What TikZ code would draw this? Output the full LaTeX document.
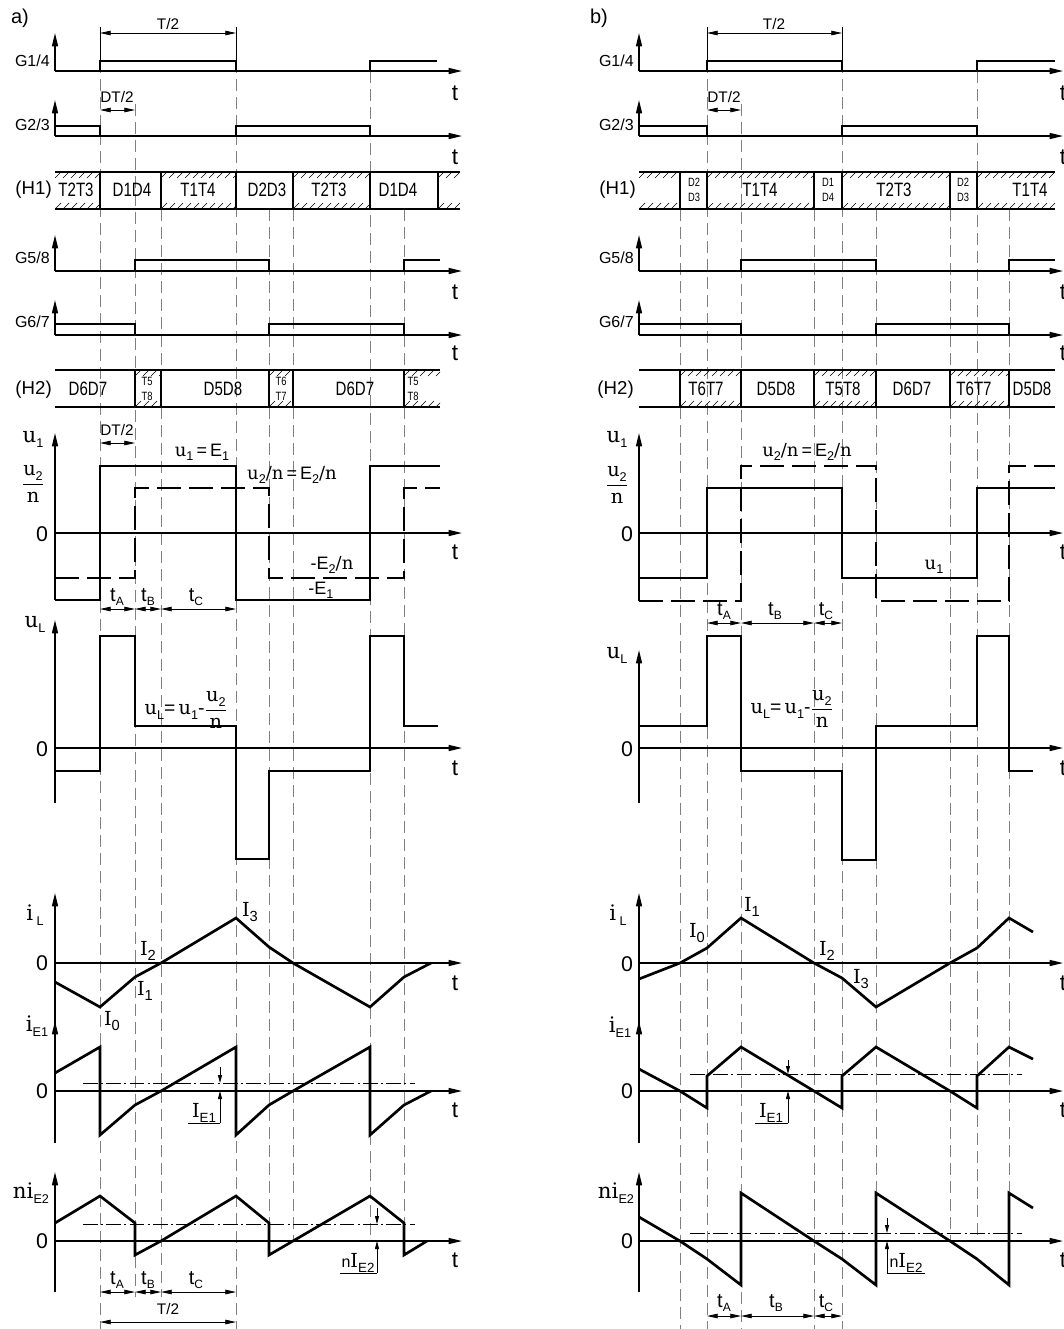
\documentclass[tikz,border=0pt]{standalone}
\usepackage{fontspec}
\setmainfont{Liberation Sans}
\newfontfamily\SerF{DejaVu Serif}
\newfontfamily\NarF[FakeStretch=0.78]{Liberation Sans}
\usetikzlibrary{arrows.meta}
\newcommand\Sub[2][9.5]{\raisebox{-0.45ex}{\rmfamily\fontsize{#1}{#1}\selectfont #2}}
\newcommand\FracUN{\ensuremath{\displaystyle\frac{\hbox{\SerF u\Sub{2}}}{\hbox{\SerF n}}}}
\newcommand\HatchCell[4]{%
 \begin{scope}
 \clip (#1,#3) rectangle (#2,#4);
 \foreach \hx in {-8,0,...,120}{%
  \draw[hatch] ({#1+\hx},{#3+6}) -- ++(6,-6);
  \draw[hatch] ({#1+\hx},{#4}) -- ++(6,-6);
 }
 \end{scope}}
\tikzset{
 guide/.style={draw=black!50, line width=0.7pt, dash pattern=on 9pt off 4.5pt},
 ext/.style={line width=0.6pt},
 axis/.style={line width=1pt, -{Triangle[length=10pt,width=4.5pt]}},
 gwave/.style={line width=1.5pt, line join=miter},
 wave/.style={line width=2pt, line join=miter},
 dwave/.style={wave, dash pattern=on 18pt off 6pt},
 dimline/.style={line width=0.6pt, {Triangle[length=8pt,width=3.4pt]}-{Triangle[length=8pt,width=3.4pt]}},
 sarr/.style={line width=0.6pt, -{Triangle[length=6pt,width=3pt]}},
 leader/.style={line width=0.6pt},
 dashdot/.style={line width=0.6pt, dash pattern=on 11pt off 2.5pt on 1.5pt off 2.5pt},
 hatch/.style={line width=0.45pt},
 boxl/.style={line width=1.2pt},
 bord/.style={line width=2pt},
 glbl/.style={font=\fontsize{12}{14}\selectfont, inner sep=0pt, anchor=east},
 hlbl/.style={font=\fontsize{14}{16}\selectfont, inner sep=0pt, anchor=east},
 tlbl/.style={font=\fontsize{17}{19}\selectfont, inner sep=0pt},
 zlbl/.style={font=\fontsize{16}{18}\selectfont, inner sep=0pt},
 cell/.style={font=\NarF\fontsize{14.5}{16}\selectfont, inner sep=0pt},
 scell/.style={font=\NarF\fontsize{9}{11}\selectfont, inner sep=0pt, align=center},
 dlbl/.style={font=\fontsize{11.5}{13}\selectfont, inner sep=0pt},
 tsub/.style={font=\fontsize{15}{17}\selectfont, inner sep=0pt},
 slbl/.style={font=\fontsize{16}{18}\selectfont, inner sep=0pt},
 ilbl/.style={font=\fontsize{14.5}{16}\selectfont, inner sep=0pt},
 eq/.style={font=\fontsize{13.5}{15}\selectfont, inner sep=0pt},
 eqb/.style={font=\fontsize{14.5}{16}\selectfont, inner sep=0pt},
 hdr/.style={font=\fontsize{15}{17}\selectfont, inner sep=0pt},
}
\begin{document}
\begin{tikzpicture}[x=0.75pt,y=-0.75pt]
\useasboundingbox (0,0) rectangle (1064,1329);

%================ PANEL A ================
\foreach \gx/\ya/\yb in {100/61/1329, 236/61/1329, 135/104/1297, 161/209/1297, 269/209/1256, 293/209/1241, 370/71/1241, 404/209/1256}
  \draw[guide] (\gx,\ya) -- (\gx,\yb);
\draw[ext] (100,27) -- (100,61);
\draw[ext] (236,27) -- (236,61);

\foreach \yb/\yt in {71/33, 136/100, 271/235, 335/300}{
  \draw[axis] (55,\yb) -- (55,\yt);
  \draw[axis] (55,\yb) -- (462,\yb);
}
\draw[axis] (55,600) -- (55,433);  \draw[axis] (55,533) -- (462,533);
\draw[axis] (55,803) -- (55,620);  \draw[axis] (55,748) -- (462,748);
\draw[axis] (55,1025) -- (55,893); \draw[axis] (55,963) -- (462,963);
\draw[axis] (55,1143) -- (55,1021); \draw[axis] (55,1091) -- (462,1091);
\draw[axis] (55,1292) -- (55,1172); \draw[axis] (55,1241) -- (462,1241);

\draw[gwave] (55,71) -- (100,71) -- (100,61) -- (236,61) -- (236,71) -- (370,71) -- (370,61) -- (437,61);
\draw[gwave] (55,126) -- (100,126) -- (100,136) -- (236,136) -- (236,126) -- (370,126) -- (370,136);
\draw[gwave] (55,271) -- (135,271) -- (135,260) -- (269,260) -- (269,271) -- (404,271) -- (404,260) -- (440,260);
\draw[gwave] (55,324) -- (135,324) -- (135,335) -- (269,335) -- (269,324) -- (404,324) -- (404,335);

\HatchCell{55}{100}{172}{209}
\HatchCell{161}{236}{172}{209}
\HatchCell{293}{370}{172}{209}
\HatchCell{438}{460}{172}{209}
\draw[boxl] (55,172) -- (460,172) (55,209) -- (460,209);
\foreach \bx in {100,161,236,293,370,438} \draw[bord] (\bx,172) -- (\bx,209);
\HatchCell{135}{161}{370}{407}
\HatchCell{269}{293}{370}{407}
\HatchCell{404}{440}{370}{407}
\draw[boxl] (55,370) -- (440,370) (55,407) -- (440,407);
\foreach \bx in {135,161,269,293,404} \draw[bord] (\bx,370) -- (\bx,407);

\draw[wave] (55,600) -- (100,600) -- (100,466) -- (236,466) -- (236,600) -- (370,600) -- (370,466) -- (440,466);
\draw[dwave] (55,578) -- (135,578) -- (135,488) -- (269,488) -- (269,578) -- (404,578) -- (404,488) -- (440,488);
\draw[wave] (55,771) -- (100,771) -- (100,636) -- (135,636) -- (135,726) -- (236,726) -- (236,859) -- (269,859) -- (269,771) -- (370,771) -- (370,636) -- (404,636) -- (404,726) -- (438,726);
\draw[wave] (55,982) -- (100,1007) -- (135,977) -- (161,963) -- (236,918) -- (269,947) -- (293,963) -- (370,1007) -- (404,977) -- (431,963);
\draw[wave] (55,1073) -- (100,1047) -- (100,1135) -- (135,1105) -- (161,1091) -- (236,1047) -- (236,1135) -- (269,1105) -- (293,1091) -- (370,1047) -- (370,1135) -- (404,1105) -- (431,1091);
\draw[wave] (55,1223) -- (100,1196) -- (135,1223) -- (135,1255) -- (161,1241) -- (236,1196) -- (269,1223) -- (269,1255) -- (293,1241) -- (370,1196) -- (404,1223) -- (404,1255) -- (427,1241);

\draw[dashdot] (83,1083) -- (415,1083);
\draw[dashdot] (83,1224) -- (415,1224);
\draw[sarr] (220,1067) -- (220,1083);
\draw[sarr] (220,1123) -- (220,1091);
\draw[leader] (188,1123) -- (220,1123);
\draw[sarr] (377,1208) -- (377,1224);
\draw[sarr] (377,1273) -- (377,1241);
\draw[leader] (340,1273) -- (377,1273);

\draw[dimline] (100,33) -- (236,33);
\draw[dimline] (100,110) -- (135,110);
\draw[dimline] (100,443) -- (135,443);
\draw[dimline] (100,609) -- (135,609);
\draw[dimline] (135,609) -- (161,609);
\draw[dimline] (161,609) -- (236,609);
\draw[dimline] (100,1292) -- (135,1292);
\draw[dimline] (135,1292) -- (161,1292);
\draw[dimline] (161,1292) -- (236,1292);
\draw[dimline] (100,1322) -- (236,1322);

\node[hdr] (aTitle) at (20,18) {a)};
\node[dlbl] (aT2top) at (168,24) {T/2};
\node[dlbl] (aDT1) at (117,97) {DT/2};
\node[dlbl] (aDT2) at (117,430) {DT/2};
\node[glbl] (aG14) at (50,61) {G1/4};
\node[glbl] (aG23) at (50,125) {G2/3};
\node[hlbl] (aH1) at (52,190) {(H1)};
\node[glbl] (aG58) at (50,258) {G5/8};
\node[glbl] (aG67) at (50,322) {G6/7};
\node[hlbl] (aH2) at (52,390) {(H2)};
\foreach \yy/\nn in {93/1,157/2,292/3,353/4,552/5,768/6,983/7,1110/8,1260/9}
  \node[tlbl] (at\nn) at (455,\yy) {t};
\node[cell] (aC1) at (76,190) {T2T3};
\node[cell] (aC2) at (132,190) {D1D4};
\node[cell] (aC3) at (198,190) {T1T4};
\node[cell] (aC4) at (267,190) {D2D3};
\node[cell] (aC5) at (329,190) {T2T3};
\node[cell] (aC6) at (398,190) {D1D4};
\node[cell] (aK1) at (88,389) {D6D7};
\node[scell] (aK2) at (147,389) {T5\\T8};
\node[cell] (aK3) at (223,389) {D5D8};
\node[scell] (aK4) at (281,389) {T6\\T7};
\node[cell] (aK5) at (355,389) {D6D7};
\node[scell] (aK6) at (413,389) {T5\\T8};

\node[slbl] (au1) at (33,439) {{\SerF u}\Sub{1}};
\node[eqb] (afr) at (33,484) {\FracUN};
\node[zlbl] (az1) at (42,534) {0};
\node[eq] (aeq1) at (202,452) {{\SerF u}\Sub{1}\,=\,E\Sub{1}};
\node[eq] (aeq2) at (292,475) {{\SerF u}\Sub{2}{\SerF /n}\,=\,E\Sub{2}{\SerF /n}};
\node[eq] (aeq3) at (332,565) {-E\Sub{2}{\SerF /n}};
\node[eq] (aeq4) at (321,590) {-E\Sub{1}};
\node[tsub] (atA1) at (117,597) {t\Sub[9]{A}};
\node[tsub] (atB1) at (148,597) {t\Sub[9]{B}};
\node[tsub] (atC1) at (196,597) {t\Sub[9]{C}};

\node[slbl] (auL) at (35,624) {{\SerF u}\Sub{L}};
\node[zlbl] (az2) at (42,749) {0};
\node[eqb] (aeq5) at (186,710) {{\SerF u}\Sub{L}=\,{\SerF u}\Sub{1}-\FracUN};

\node[slbl] (aiL) at (35,915) {{\SerF i}\,\Sub{L}};
\node[zlbl] (az3) at (42,963) {0};
\node[ilbl] (aI3) at (250,912) {{\SerF I}\Sub[11]{3}};
\node[ilbl] (aI2) at (148,951) {{\SerF I}\Sub[11]{2}};
\node[ilbl] (aI1) at (145,991) {{\SerF I}\Sub[11]{1}};
\node[ilbl] (aI0) at (112,1021) {{\SerF I}\Sub[11]{0}};

\node[slbl] (aiE1) at (37,1026) {{\SerF i}\Sub{E1}};
\node[zlbl] (az4) at (42,1091) {0};
\node[ilbl] (aIE1) at (204,1113) {{\SerF I}\Sub[10]{E1}};

\node[slbl] (aniE2) at (31,1193) {{\SerF ni}\Sub{E2}};
\node[zlbl] (az5) at (42,1241) {0};
\node[ilbl] (anIE2) at (358,1263) {{\fontsize{12}{12}\selectfont n}{\SerF I}\Sub[10]{E2}};
\node[tsub] (atA2) at (117,1280) {t\Sub[9]{A}};
\node[tsub] (atB2) at (148,1280) {t\Sub[9]{B}};
\node[tsub] (atC2) at (196,1280) {t\Sub[9]{C}};
\node[dlbl] (aT2bot) at (168,1309) {T/2};

%================ PANEL B ================
\foreach \gx/\ya/\yb in {707/61/1329, 842/61/1329, 741/104/1329, 680/209/1329, 814/209/1329, 876/209/1241, 950/209/1241, 977/71/1241, 1009/209/1241}
  \draw[guide] (\gx,\ya) -- (\gx,\yb);
\draw[ext] (707,27) -- (707,61);
\draw[ext] (842,27) -- (842,61);

\foreach \yb/\yt in {71/33, 136/100, 271/235, 335/300}{
  \draw[axis] (639,\yb) -- (639,\yt);
  \draw[axis] (639,\yb) -- (1063,\yb);
}
\draw[axis] (639,601) -- (639,433);  \draw[axis] (639,533) -- (1063,533);
\draw[axis] (639,803) -- (639,650);  \draw[axis] (639,748) -- (1063,748);
\draw[axis] (639,1025) -- (639,893); \draw[axis] (639,963) -- (1063,963);
\draw[axis] (639,1143) -- (639,1021); \draw[axis] (639,1091) -- (1063,1091);
\draw[axis] (639,1292) -- (639,1172); \draw[axis] (639,1241) -- (1063,1241);

\draw[gwave] (639,71) -- (707,71) -- (707,61) -- (842,61) -- (842,71) -- (977,71) -- (977,61) -- (1055,61);
\draw[gwave] (639,126) -- (707,126) -- (707,136) -- (842,136) -- (842,126) -- (977,126) -- (977,136);
\draw[gwave] (639,271) -- (741,271) -- (741,260) -- (876,260) -- (876,271) -- (1009,271) -- (1009,260) -- (1055,260);
\draw[gwave] (639,324) -- (741,324) -- (741,335) -- (876,335) -- (876,324) -- (1009,324) -- (1009,335);

\HatchCell{639}{680}{172}{209}
\HatchCell{707}{814}{172}{209}
\HatchCell{842}{950}{172}{209}
\HatchCell{977}{1055}{172}{209}
\draw[boxl] (639,172) -- (1055,172) (639,209) -- (1055,209);
\foreach \bx in {680,707,814,842,950,977} \draw[bord] (\bx,172) -- (\bx,209);
\HatchCell{680}{741}{370}{407}
\HatchCell{814}{876}{370}{407}
\HatchCell{950}{1009}{370}{407}
\draw[boxl] (639,370) -- (1055,370) (639,407) -- (1055,407);
\foreach \bx in {680,741,814,876,950,1009} \draw[bord] (\bx,370) -- (\bx,407);

\draw[wave] (639,578) -- (707,578) -- (707,488) -- (842,488) -- (842,578) -- (977,578) -- (977,488) -- (1055,488);
\draw[dwave] (639,601) -- (741,601) -- (741,466) -- (876,466) -- (876,601) -- (1009,601) -- (1009,466) -- (1055,466);
\draw[wave] (639,726) -- (707,726) -- (707,636) -- (741,636) -- (741,771) -- (842,771) -- (842,860) -- (876,860) -- (876,726) -- (977,726) -- (977,636) -- (1009,636) -- (1009,771) -- (1033,771);
\draw[wave] (639,979) -- (680,963) -- (707,948) -- (741,918) -- (814,963) -- (842,978) -- (876,1007) -- (950,963) -- (977,948) -- (1009,918) -- (1033,932);
\draw[wave] (639,1069) -- (680,1091) -- (707,1108) -- (707,1076) -- (741,1047) -- (814,1091) -- (842,1108) -- (842,1076) -- (876,1047) -- (950,1091) -- (977,1108) -- (977,1076) -- (1009,1047) -- (1033,1059);
\draw[wave] (639,1217) -- (680,1241) -- (707,1259) -- (741,1285) -- (741,1193) -- (814,1241) -- (842,1259) -- (876,1285) -- (876,1193) -- (950,1241) -- (977,1259) -- (1009,1285) -- (1009,1193) -- (1033,1208);

\draw[dashdot] (690,1074) -- (1022,1074);
\draw[dashdot] (690,1233) -- (1022,1233);
\draw[sarr] (788,1060) -- (788,1074);
\draw[sarr] (788,1123) -- (788,1091);
\draw[leader] (755,1123) -- (788,1123);
\draw[sarr] (887,1218) -- (887,1233);
\draw[sarr] (887,1273) -- (887,1241);
\draw[leader] (887,1273) -- (925,1273);

\draw[dimline] (707,33) -- (842,33);
\draw[dimline] (707,110) -- (741,110);
\draw[dimline] (707,623) -- (741,623);
\draw[dimline] (741,623) -- (814,623);
\draw[dimline] (814,623) -- (842,623);
\draw[dimline] (707,1316) -- (741,1316);
\draw[dimline] (741,1316) -- (814,1316);
\draw[dimline] (814,1316) -- (842,1316);

\node[hdr] (bTitle) at (599,18) {b)};
\node[dlbl] (bT2top) at (774,24) {T/2};
\node[dlbl] (bDT1) at (724,97) {DT/2};
\node[glbl] (bG14) at (634,61) {G1/4};
\node[glbl] (bG23) at (634,125) {G2/3};
\node[hlbl] (bH1) at (636,190) {(H1)};
\node[glbl] (bG58) at (634,258) {G5/8};
\node[glbl] (bG67) at (634,322) {G6/7};
\node[hlbl] (bH2) at (634,390) {(H2)};
\foreach \yy/\nn in {93/1,157/2,292/3,353/4,552/5,768/6,983/7,1110/8,1260/9}
  \node[tlbl] (bt\nn) at (1063,\yy) {t};
\node[scell] (bC1) at (694,190) {D2\\D3};
\node[cell] (bC2) at (760,190) {T1T4};
\node[scell] (bC3) at (828,190) {D1\\D4};
\node[cell] (bC4) at (894,190) {T2T3};
\node[scell] (bC5) at (963,190) {D2\\D3};
\node[cell] (bC6) at (1030,190) {T1T4};
\node[cell] (bK1) at (706,389) {T6T7};
\node[cell] (bK2) at (776,389) {D5D8};
\node[cell] (bK3) at (843,389) {T5T8};
\node[cell] (bK4) at (912,389) {D6D7};
\node[cell] (bK5) at (974,389) {T6T7};
\node[cell] (bK6) at (1032,389) {D5D8};

\node[slbl] (bu1) at (617,439) {{\SerF u}\Sub{1}};
\node[eqb] (bfr) at (617,485) {\FracUN};
\node[zlbl] (bz1) at (627,534) {0};
\node[eq] (beq2) at (807,452) {{\SerF u}\Sub{2}{\SerF /n}\,=\,E\Sub{2}{\SerF /n}};
\node[eq] (beq1) at (934,567) {{\SerF u}\Sub{1}};
\node[tsub] (btA1) at (724,611) {t\Sub[9]{A}};
\node[tsub] (btB1) at (775,611) {t\Sub[9]{B}};
\node[tsub] (btC1) at (826,611) {t\Sub[9]{C}};

\node[slbl] (buL) at (617,655) {{\SerF u}\Sub{L}};
\node[zlbl] (bz2) at (627,749) {0};
\node[eqb] (beq5) at (792,709) {{\SerF u}\Sub{L}=\,{\SerF u}\Sub{1}-\FracUN};

\node[slbl] (biL) at (618,915) {{\SerF i}\,\Sub{L}};
\node[zlbl] (bz3) at (627,964) {0};
\node[ilbl] (bI0) at (697,933) {{\SerF I}\Sub[11]{0}};
\node[ilbl] (bI1) at (752,907) {{\SerF I}\Sub[11]{1}};
\node[ilbl] (bI2) at (827,951) {{\SerF I}\Sub[11]{2}};
\node[ilbl] (bI3) at (861,979) {{\SerF I}\Sub[11]{3}};

\node[slbl] (biE1) at (620,1027) {{\SerF i}\Sub{E1}};
\node[zlbl] (bz4) at (627,1091) {0};
\node[ilbl] (bIE1) at (771,1113) {{\SerF I}\Sub[10]{E1}};

\node[slbl] (bniE2) at (616,1193) {{\SerF ni}\Sub{E2}};
\node[zlbl] (bz5) at (627,1241) {0};
\node[ilbl] (bnIE2) at (906,1263) {{\fontsize{12}{12}\selectfont n}{\SerF I}\Sub[10]{E2}};
\node[tsub] (btA2) at (724,1303) {t\Sub[9]{A}};
\node[tsub] (btB2) at (776,1303) {t\Sub[9]{B}};
\node[tsub] (btC2) at (826,1303) {t\Sub[9]{C}};
\end{tikzpicture}
\end{document}
